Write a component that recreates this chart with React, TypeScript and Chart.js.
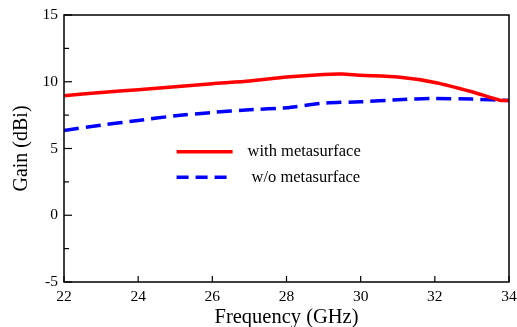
import React, { useEffect, useRef } from "react";
import { Chart, registerables } from "chart.js";

Chart.register(...registerables);

const freqWith = [22, 23, 24, 25, 26, 27, 28, 29, 29.5, 30, 31, 32, 33, 33.75, 34];
const gainWith = [8.95, 9.2, 9.4, 9.62, 9.85, 10.05, 10.35, 10.55, 10.58, 10.48, 10.35, 9.95, 9.25, 8.62, 8.6];
const freqWithout = [22, 23, 24, 25, 26, 27, 28, 29, 30, 31, 32, 33, 34];
const gainWithout = [6.35, 6.75, 7.1, 7.45, 7.7, 7.9, 8.05, 8.4, 8.5, 8.65, 8.75, 8.7, 8.6];
const seriesLabels = ["with metasurface", "w/o metasurface"];
const xTitle = "Frequency (GHz)";
const yTitle = "Gain (dBi)";

const FONT = "'Liberation Serif', 'Times New Roman', serif";

const framePlugin = {
  id: "frameTicks",
  afterDraw(chart: any) {
    const { ctx, chartArea } = chart;
    const { left, right, top, bottom } = chartArea;
    const xs = chart.scales.x;
    const ys = chart.scales.y;
    ctx.save();
    ctx.strokeStyle = "#000";
    ctx.lineWidth = 1.5;
    ctx.setLineDash([]);
    ctx.strokeRect(left, top, right - left, bottom - top);
    ctx.lineWidth = 1.2;
    ys.ticks.forEach((t: any) => {
      const y = ys.getPixelForValue(t.value);
      const len = t.value % 5 === 0 ? 8 : 5;
      ctx.beginPath();
      ctx.moveTo(left, y);
      ctx.lineTo(left + len, y);
      ctx.stroke();
    });
    xs.ticks.forEach((t: any) => {
      const x = xs.getPixelForValue(t.value);
      ctx.beginPath();
      ctx.moveTo(x, bottom);
      ctx.lineTo(x, bottom - 6);
      ctx.stroke();
    });
    // legend
    const lx0 = left + (right - left) * 0.253;
    const lx1 = lx0 + 56;
    const ly0 = top + (bottom - top) * 0.512;
    const ly1 = top + (bottom - top) * 0.608;
    ctx.lineWidth = 3.5;
    ctx.strokeStyle = "#ff0000";
    ctx.beginPath();
    ctx.moveTo(lx0, ly0);
    ctx.lineTo(lx1, ly0);
    ctx.stroke();
    ctx.strokeStyle = "#0000ff";
    ctx.setLineDash([12, 7]);
    ctx.beginPath();
    ctx.moveTo(lx0, ly1);
    ctx.lineTo(lx1, ly1);
    ctx.stroke();
    ctx.setLineDash([]);
    ctx.fillStyle = "#000";
    ctx.font = `16.5px ${FONT}`;
    ctx.textBaseline = "middle";
    ctx.textAlign = "left";
    ctx.fillText(seriesLabels[0], lx1 + 15, ly0);
    ctx.fillText(seriesLabels[1], lx1 + 19, ly1);
    ctx.restore();
  },
};

export default function App() {
  const ref = useRef<HTMLCanvasElement>(null);
  useEffect(() => {
    document.body.style.margin = "0";
    const chart = new Chart(ref.current!, {
      type: "line",
      data: {
        datasets: [
          {
            label: seriesLabels[0],
            data: freqWith.map((f, i) => ({ x: f, y: gainWith[i] })),
            borderColor: "#ff0000",
            borderWidth: 3.5,
            pointRadius: 0,
            tension: 0.2,
          },
          {
            label: seriesLabels[1],
            data: freqWithout.map((f, i) => ({ x: f, y: gainWithout[i] })),
            borderColor: "#0000ff",
            borderWidth: 3.5,
            borderDash: [15, 7],
            pointRadius: 0,
            tension: 0.2,
          },
        ],
      },
      options: {
        animation: false,
        responsive: false,
        layout: { padding: { top: 15, right: 8, left: 0, bottom: 0 } },
        plugins: { legend: { display: false }, tooltip: { enabled: false } },
        scales: {
          x: {
            type: "linear",
            min: 22,
            max: 34,
            grid: { display: false, drawTicks: false },
            border: { display: false },
            ticks: {
              stepSize: 2,
              color: "#000",
              font: { family: FONT, size: 15.5 },
              padding: 6,
              maxRotation: 0,
            },
            title: {
              display: true,
              text: xTitle,
              color: "#000",
              font: { family: FONT, size: 20.5 },
              padding: { top: 0, bottom: -3 },
            },
            afterFit(s: any) {
              s.height = 45;
              s.paddingLeft = 0;
              s.paddingRight = 0;
            },
          },
          y: {
            min: -5,
            max: 15,
            grid: { display: false, drawTicks: false },
            border: { display: false },
            ticks: {
              stepSize: 2.5,
              color: "#000",
              font: { family: FONT, size: 15.5 },
              padding: 6,
              callback: (v: any) => (Number(v) % 5 === 0 ? String(v) : ""),
            },
            title: {
              display: true,
              text: yTitle,
              color: "#000",
              font: { family: FONT, size: 20 },
              padding: { top: 10, bottom: 0 },
            },
            afterFit(s: any) {
              s.width = 64;
              s.paddingTop = 0;
              s.paddingBottom = 0;
            },
          },
        },
      },
      plugins: [framePlugin],
    });
    return () => chart.destroy();
  }, []);
  return (
    <div style={{ position: "absolute", left: 0, top: 0, width: 517, height: 327, background: "#fff" }}>
      <canvas ref={ref} width={517} height={327} />
    </div>
  );
}
